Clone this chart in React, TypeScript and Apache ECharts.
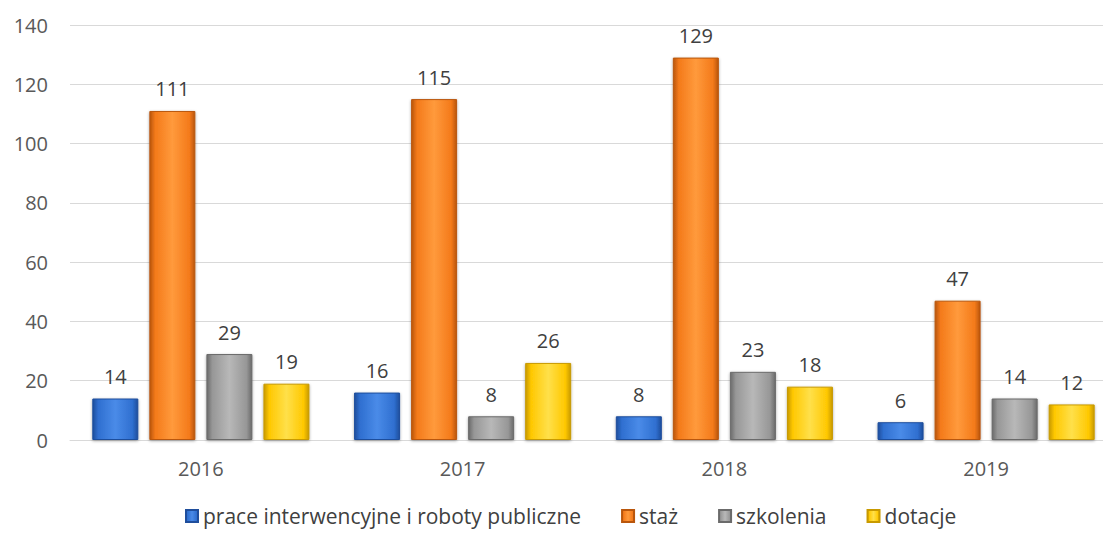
import React, { useEffect, useRef } from "react";
import * as echarts from "echarts";

const categories = ["2016", "2017", "2018", "2019"];
const seriesNames = ["prace interwencyjne i roboty publiczne", "staż", "szkolenia", "dotacje"];
const praceValues = [14, 16, 8, 6];
const stazValues = [111, 115, 129, 47];
const szkoleniaValues = [29, 8, 23, 14];
const dotacjeValues = [19, 26, 18, 12];
const yTicks = [0, 20, 40, 60, 80, 100, 120, 140];

const palette = [
  { light: "#4A8BE8", mid: "#2F6FD0", dark: "#1F4E9C" },
  { light: "#FF9A3C", mid: "#F47A1A", dark: "#B9560C" },
  { light: "#B8B8B8", mid: "#979797", dark: "#6B6B6B" },
  { light: "#FFE04A", mid: "#FFC800", dark: "#C89A00" },
];

const FONT = "'Open Sans', sans-serif";

export default function App() {
  const ref = useRef<HTMLDivElement>(null);
  useEffect(() => {
    document.body.style.margin = "0";
    const chart = echarts.init(ref.current!, undefined, { renderer: "svg" });
    const allValues = [praceValues, stazValues, szkoleniaValues, dotacjeValues];
    chart.setOption({
      animation: false,
      backgroundColor: "#ffffff",
      grid: { left: 70, top: 25, right: -14, bottom: 93, containLabel: false, outerBoundsMode: "none" },
      legend: {
        left: 185,
        top: 504,
        padding: 0,
        icon: "rect",
        itemWidth: 12,
        itemHeight: 12,
        itemGap: 40,
        textStyle: { fontFamily: FONT, fontSize: 21, lineHeight: 24, color: "#404040" },
        data: seriesNames,
      },
      xAxis: {
        type: "category",
        data: categories,
        axisLine: { show: true, lineStyle: { color: "#D9D9D9", width: 1 } },
        axisTick: { show: false },
        axisLabel: { fontFamily: FONT, fontSize: 20, color: "#595959", margin: 18 },
      },
      yAxis: {
        type: "value",
        min: yTicks[0],
        max: yTicks[yTicks.length - 1],
        interval: 20,
        axisLine: { show: false },
        axisTick: { show: false },
        splitLine: { lineStyle: { color: "#D9D9D9", width: 1 } },
        axisLabel: { fontFamily: FONT, fontSize: 20, color: "#595959", margin: 22 },
      },
      series: seriesNames.map((name, i) => ({
        name,
        type: "bar",
        data: allValues[i],
        barWidth: 46,
        barGap: "24%",
        itemStyle: {
          color: new echarts.graphic.LinearGradient(0, 0, 1, 0, [
            { offset: 0, color: palette[i].dark },
            { offset: 0.12, color: palette[i].mid },
            { offset: 0.5, color: palette[i].light },
            { offset: 0.88, color: palette[i].mid },
            { offset: 1, color: palette[i].dark },
          ]),
          borderColor: palette[i].dark,
          borderWidth: 1,
          shadowBlur: 3,
          shadowColor: "rgba(0,0,0,0.35)",
          shadowOffsetY: 1,
        },
        label: {
          show: true,
          position: "top",
          distance: 12,
          fontFamily: FONT,
          fontSize: 20,
          color: "#404040",
        },
      })),
    });
    return () => chart.dispose();
  }, []);
  return <div ref={ref} style={{ width: 1103, height: 533 }} />;
}
